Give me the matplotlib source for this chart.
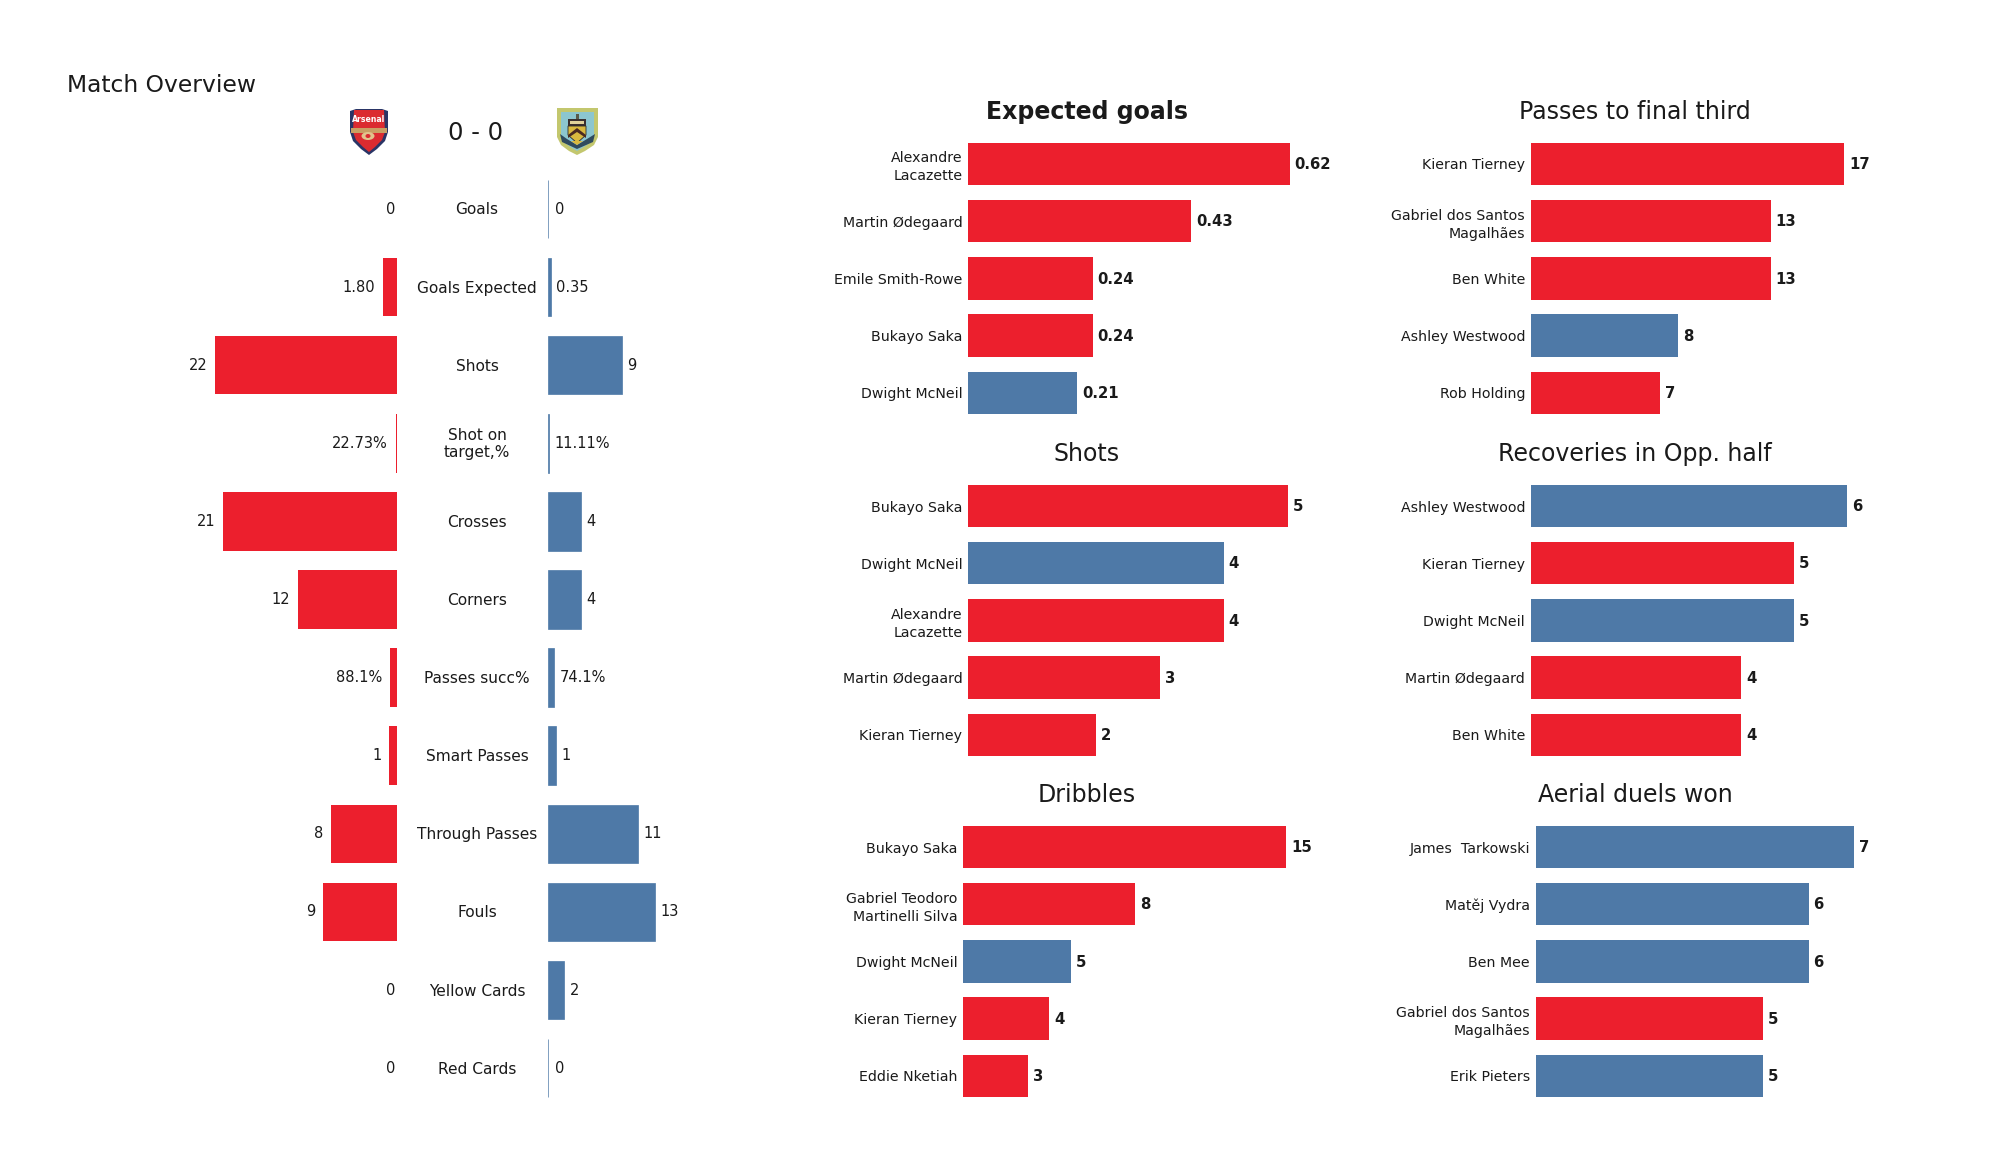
import matplotlib
matplotlib.use("Agg")
import matplotlib.pyplot as plt
from matplotlib.patches import Polygon, Rectangle, Ellipse

RED = "#ec1f2d"
BLUE = "#4e79a7"
INK = "#1a1a1a"
W, H = 2000, 1175

stats = ["Goals", "Goals Expected", "Shots", "Shot on\ntarget,%", "Crosses", "Corners",
         "Passes succ%", "Smart Passes", "Through Passes", "Fouls", "Yellow Cards", "Red Cards"]
home_vals = [0, 1.80, 22, 0.2273, 21, 12, 0.881, 1, 8, 9, 0, 0]
away_vals = [0, 0.35, 9, 0.1111, 4, 4, 0.741, 1, 11, 13, 2, 0]
home_text = ["0", "1.80", "22", "22.73%", "21", "12", "88.1%", "1", "8", "9", "0", "0"]
away_text = ["0", "0.35", "9", "11.11%", "4", "4", "74.1%", "1", "11", "13", "2", "0"]

xg_names = ["Alexandre\nLacazette", "Martin Ødegaard", "Emile Smith-Rowe", "Bukayo Saka", "Dwight McNeil"]
xg_vals = [0.62, 0.43, 0.24, 0.24, 0.21]
xg_home = [1, 1, 1, 1, 0]
shots_names = ["Bukayo Saka", "Dwight McNeil", "Alexandre\nLacazette", "Martin Ødegaard", "Kieran Tierney"]
shots_vals = [5, 4, 4, 3, 2]
shots_home = [1, 0, 1, 1, 1]
drib_names = ["Bukayo Saka", "Gabriel Teodoro\nMartinelli Silva", "Dwight McNeil", "Kieran Tierney", "Eddie Nketiah"]
drib_vals = [15, 8, 5, 4, 3]
drib_home = [1, 1, 0, 1, 1]
pass_names = ["Kieran Tierney", "Gabriel dos Santos\nMagalhães", "Ben White", "Ashley Westwood", "Rob Holding"]
pass_vals = [17, 13, 13, 8, 7]
pass_home = [1, 1, 1, 0, 1]
rec_names = ["Ashley Westwood", "Kieran Tierney", "Dwight McNeil", "Martin Ødegaard", "Ben White"]
rec_vals = [6, 5, 5, 4, 4]
rec_home = [0, 1, 0, 1, 1]
aer_names = ["James  Tarkowski", "Matěj Vydra", "Ben Mee", "Gabriel dos Santos\nMagalhães", "Erik Pieters"]
aer_vals = [7, 6, 6, 5, 5]
aer_home = [0, 0, 0, 1, 0]

fig = plt.figure(figsize=(20, 11.75), dpi=100, facecolor="white")


def px_axes(x0, y0, x1, y1):
    ax = fig.add_axes([x0 / W, 1 - y1 / H, (x1 - x0) / W, (y1 - y0) / H])
    ax.axis("off")
    return ax


def ftext(x, y, s, **kw):
    fig.text(x / W, 1 - y / H, s, **kw)


ftext(67, 86, "Match Overview", fontsize=16.8, ha="left", va="center", color=INK)
ftext(476, 133, "0 - 0", fontsize=17.5, ha="center", va="center", color=INK)

# summary table
ROW0, ROW_STEP, PX_PER_UNIT = 209, 78.1, 8.3
ytop, ybot = ROW0 - ROW_STEP / 2, ROW0 + 11.5 * ROW_STEP
rows = list(range(len(stats)))

axl = px_axes(150, ytop, 397.5, ybot)
axl.set_xlim(247.5 / PX_PER_UNIT, 0)
axl.set_ylim(len(stats) - 0.5, -0.5)
axl.barh(rows, home_vals, height=0.75, color=RED, linewidth=0)

axr = px_axes(548, ytop, 750, ybot)
axr.set_xlim(0, 202 / 8.22)
axr.set_ylim(len(stats) - 0.5, -0.5)
axr.barh(rows, away_vals, height=0.75, color=BLUE, edgecolor=BLUE, linewidth=0.5)

for i in rows:
    axl.annotate(home_text[i], (home_vals[i], i), xytext=(-1.5 if home_vals[i] == 0 else -5.5, 0),
                 textcoords="offset points", ha="right", va="center", fontsize=10.5, color=INK)
    axr.annotate(away_text[i], (away_vals[i], i), xytext=(5 if away_vals[i] == 0 else 3.8, 0),
                 textcoords="offset points", ha="left", va="center", fontsize=10.5, color=INK)
    ftext(477, ROW0 + i * ROW_STEP + 1, stats[i], fontsize=11.1, ha="center", va="center",
          color=INK, linespacing=1.18)


def panel(x0, ppu, cy0, names, vals, home, title, dec=False, bold=False, tx=0):
    step = 57.2
    top = cy0 - step / 2
    bottom = cy0 + 4.5 * step
    ax = px_axes(x0, top, x0 + max(vals) * ppu, bottom)
    ax.axis("on")
    for s in ax.spines.values():
        s.set_visible(False)
    ax.set_xlim(0, max(vals))
    ax.set_ylim(4.5, -0.5)
    ypos = list(range(5))
    ax.barh(ypos, vals, height=0.74, color=[RED if h else BLUE for h in home], linewidth=0)
    ax.set_xticks([])
    ax.set_yticks(ypos)
    ax.set_yticklabels(names, fontsize=10.2, color=INK, linespacing=1.35)
    ax.tick_params(axis="y", length=0, pad=4)
    for y, v in zip(ypos, vals):
        ax.annotate(f"{v:.2f}" if dec else f"{v}", (v, y), xytext=(3.5, -0.5), textcoords="offset points",
                    ha="left", va="center", fontsize=10.7, fontweight="bold", color=INK)
    ftext(tx, cy0 - 52, title, fontsize=17, ha="center", va="center", color=INK,
          fontweight="bold" if bold else "normal")


panel(968, 519, 164, xg_names, xg_vals, xg_home, "Expected goals", dec=True, bold=True, tx=1087)
panel(968, 63.9, 506, shots_names, shots_vals, shots_home, "Shots", tx=1087)
panel(963, 21.55, 847, drib_names, drib_vals, drib_home, "Dribbles", tx=1087)
panel(1530.6, 18.46, 164, pass_names, pass_vals, pass_home, "Passes to final third", tx=1635)
panel(1530.6, 52.7, 506, rec_names, rec_vals, rec_home, "Recoveries in Opp. half", tx=1635)
panel(1535.6, 45.5, 847, aer_names, aer_vals, aer_home, "Aerial duels won", tx=1635)

# crests (simplified drawings)
c1 = px_axes(349, 108, 389, 155)
c1.set_xlim(0, 40); c1.set_ylim(47, 0)
c1.add_patch(Polygon([(1, 3), (7, 1), (33, 1), (39, 3), (39, 24), (36, 33), (28, 41), (20, 47),
                      (12, 41), (4, 33), (1, 24)], fc="#2a3566", ec="none"))
c1.add_patch(Polygon([(5, 2), (35, 2), (36, 24), (33, 32), (26, 39), (20, 44), (14, 39), (7, 32), (4, 24)],
                     fc="#db2b30", ec="none"))
c1.add_patch(Rectangle((2, 20), 36, 5, fc="#c9a063", ec="none"))
c1.add_patch(Ellipse((19, 28), 13, 8, fc="#e2c48c", ec="none"))
c1.add_patch(Ellipse((19, 28), 5, 4, fc="#db2b30", ec="none"))
c1.text(20, 11, "Arsenal", fontsize=5.6, color="white", fontweight="bold", ha="center", va="center")

c2 = px_axes(557, 108, 598, 155)
c2.set_xlim(0, 41); c2.set_ylim(47, 0)
c2.add_patch(Polygon([(0, 0), (41, 0), (41, 29), (37, 37), (28, 43), (20, 47), (12, 43), (4, 37), (0, 29)],
                     fc="#c3c76e", ec="none"))
c2.add_patch(Polygon([(4, 4), (37, 4), (37, 28), (33, 35), (25, 40), (20, 43), (15, 40), (8, 35), (4, 28)],
                     fc="#8cc6cf", ec="none"))
c2.add_patch(Rectangle((18.5, 6), 3, 5, fc="#5a5a4a", ec="none"))
c2.add_patch(Rectangle((11, 11), 18, 7, fc="#3a3030", ec="none"))
c2.add_patch(Rectangle((13, 13), 14, 3, fc="#e0d29a", ec="none"))
c2.add_patch(Polygon([(11, 18), (29, 18), (29, 27), (20, 35), (11, 27)], fc="#d9b93f", ec="#2a2a2a", lw=0.6))
c2.add_patch(Polygon([(11, 27), (20, 20), (29, 27), (29, 30), (20, 24), (11, 30)], fc="#4a2a22", ec="none"))
c2.add_patch(Polygon([(3, 26), (10, 31), (20, 37), (30, 31), (38, 26), (36, 34), (20, 41), (5, 34)],
                     fc="#2f4a5e", ec="none"))
c2.add_patch(Polygon([(14, 33), (26, 33), (20, 37)], fc="#d9b93f", ec="none"))

fig.savefig("out.png", dpi=100, facecolor="white")
